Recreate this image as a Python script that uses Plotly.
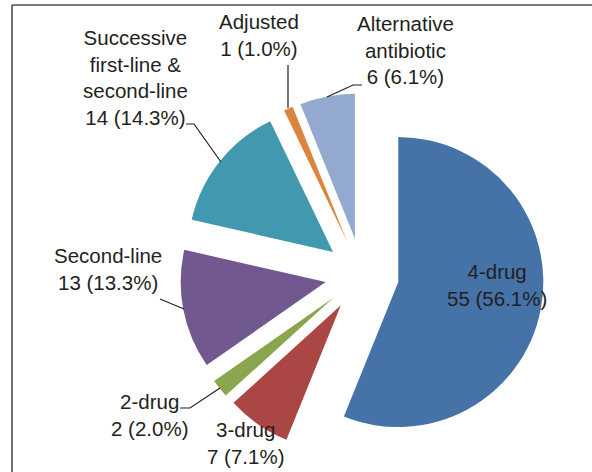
import plotly.graph_objects as go

W, H = 592, 472

labels = ["4-drug", "3-drug", "2-drug", "Second-line",
          "Successive first-line & second-line", "Adjusted", "Alternative antibiotic"]
values = [55, 7, 2, 13, 14, 1, 6]
percents = ["56.1%", "7.1%", "2.0%", "13.3%", "14.3%", "1.0%", "6.1%"]
colors = ["#4572A7", "#AA4643", "#89A54E", "#71588F", "#4198AF", "#DB843D", "#93A9CF"]
label_lines = [["4-drug"], ["3-drug"], ["2-drug"], ["Second-line"],
               ["Successive", "first-line &", "second-line"], ["Adjusted"],
               ["Alternative", "antibiotic"]]


def px(x):
    return x / W


def py(y):
    return 1 - y / H


# pie geometry (pixels)
cx, cy, half = 362, 275, 182
pull = 0.255

fig = go.Figure(go.Pie(
    labels=labels, values=values, sort=False, direction="clockwise", rotation=0,
    marker=dict(colors=colors, line=dict(width=0)),
    pull=[pull] * len(values), textinfo="none", hoverinfo="label+value+percent",
    domain=dict(x=[px(cx - half), px(cx + half)], y=[py(cy + half), py(cy - half)]),
    showlegend=False,
))

# label centers (pixels)
label_pos = [(497, 285), (246, 443), (149, 415), (108, 269), (135, 77), (259, 35), (405, 50)]
font = dict(family="Liberation Sans, Arial, sans-serif", size=20.5, color="#231F20")
annotations = []
for lines, v, p, (x, y) in zip(label_lines, values, percents, label_pos):
    text = "<br>".join(lines + [f"{v} ({p})"])
    annotations.append(dict(x=px(x), y=py(y), xref="paper", yref="paper", text=text,
                            showarrow=False, font=font, align="center",
                            xanchor="center", yanchor="middle"))

leaders = [
    [(327, 97), (353, 85), (362, 85)],          # Alternative
    [(288, 65), (288, 108)],                     # Adjusted
    [(186, 124), (194, 124), (221, 162)],        # Successive
    [(160, 299), (184, 309)],                    # Second-line
    [(180, 408), (190, 408), (220, 388)],        # 2-drug
]
shapes = []
for pts in leaders:
    path = "M " + " L ".join(f"{px(x)},{py(y)}" for x, y in pts)
    shapes.append(dict(type="path", path=path, xref="paper", yref="paper",
                       line=dict(color="#231F20", width=1.2)))

# frame (top and left)
shapes.append(dict(type="line", xref="paper", yref="paper", x0=px(12), y0=py(5), x1=1, y1=py(5),
                   line=dict(color="#4D4D4D", width=1.6)))
shapes.append(dict(type="line", xref="paper", yref="paper", x0=px(12), y0=py(5), x1=px(12), y1=0,
                   line=dict(color="#4D4D4D", width=1.6)))

fig.update_layout(width=W, height=H, margin=dict(l=0, r=0, t=0, b=0),
                  paper_bgcolor="white", plot_bgcolor="white",
                  annotations=annotations, shapes=shapes)

fig.write_html("out.html")
